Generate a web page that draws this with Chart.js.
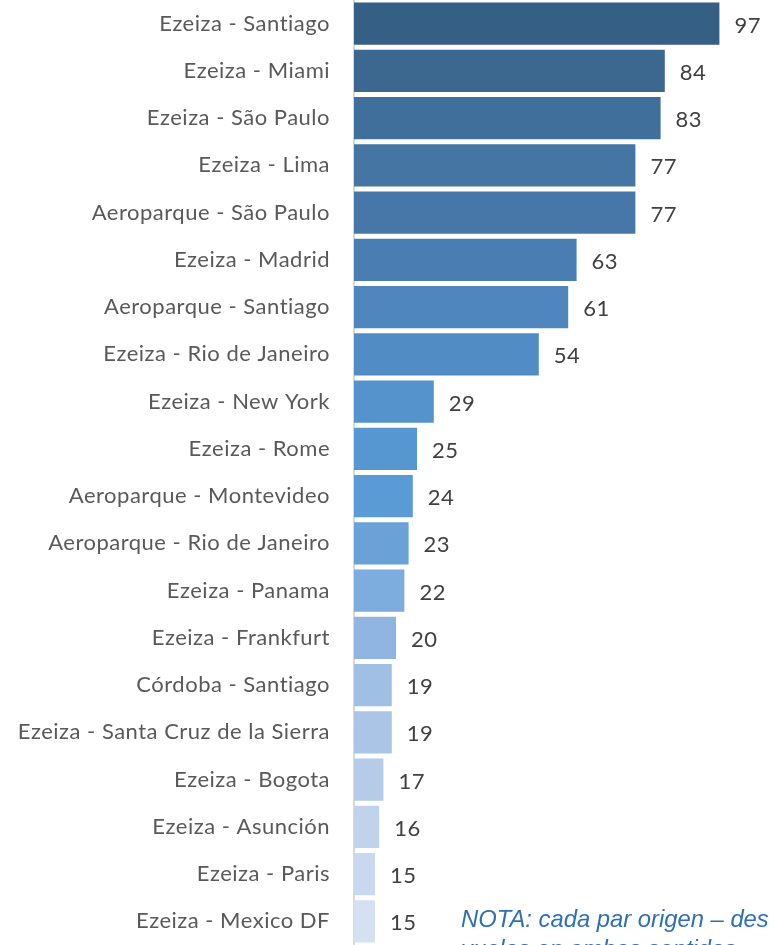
<!DOCTYPE html>
<html>
<head>
<meta charset="utf-8">
<script src="https://cdn.jsdelivr.net/npm/chart.js@4/dist/chart.umd.min.js"></script>
<style>
  html, body { margin: 0; padding: 0; background: #fff; }
  #wrap { position: relative; width: 769px; height: 945px; overflow: hidden; }
  #note {
    position: absolute; left: 461px; top: 904px; white-space: nowrap;
    font: italic 23.8px "Liberation Sans", Arial, sans-serif; line-height: 30px;
    color: #2e6fb4;
  }
</style>
</head>
<body>
<div id="wrap">
  <canvas id="routesChart" width="769" height="945"></canvas>
  <div id="note">NOTA: cada par origen – destino incluye<br>vuelos en ambos sentidos</div>
</div>
<script>
// rutas y cantidad de vuelos
const routes = [
  "Ezeiza - Santiago", "Ezeiza - Miami", "Ezeiza - São Paulo", "Ezeiza - Lima",
  "Aeroparque - São Paulo", "Ezeiza - Madrid", "Aeroparque - Santiago",
  "Ezeiza - Rio de Janeiro", "Ezeiza - New York", "Ezeiza - Rome",
  "Aeroparque - Montevideo", "Aeroparque - Rio de Janeiro", "Ezeiza - Panama",
  "Ezeiza - Frankfurt", "Córdoba - Santiago", "Ezeiza - Santa Cruz de la Sierra",
  "Ezeiza - Bogota", "Ezeiza - Asunción", "Ezeiza - Paris", "Ezeiza - Mexico DF",
];
const flights = [97, 84, 83, 77, 77, 63, 61, 54, 29, 25, 24, 23, 22, 20, 19, 19, 17, 16, 15, 15];
const barColors = [
  "#365f86", "#3c6890", "#416f9b", "#4575a3", "#4677a8", "#4a7eb3", "#4e86bd",
  "#528cc5", "#5593cc", "#5797d1", "#5b9bd5", "#6aa2d8", "#7dadde", "#8fb5e0",
  "#9fc0e4", "#aac5e6", "#b5cbe7", "#c0d3eb", "#c9d8ee", "#d5e1f2",
];

const FONT = 'Lato, "Open Sans", sans-serif';

// un poco de espaciado entre letras, como en el original
const spacing = {
  id: "spacing",
  beforeDraw(chart) { chart.ctx.letterSpacing = "0.5px"; },
};

// etiquetas de valor a la derecha de cada barra
const valueLabels = {
  id: "valueLabels",
  afterDatasetsDraw(chart) {
    const ctx = chart.ctx;
    const meta = chart.getDatasetMeta(0);
    ctx.save();
    ctx.letterSpacing = "0.5px";
    ctx.font = "22px " + FONT;
    ctx.fillStyle = "#404040";
    ctx.textAlign = "left";
    ctx.textBaseline = "middle";
    meta.data.forEach((bar, i) => {
      ctx.fillText(flights[i], bar.x + 15, bar.y + 2);
    });
    ctx.restore();
  },
};

const ctx = document.getElementById("routesChart").getContext("2d");
new Chart(ctx, {
  type: "bar",
  data: {
    labels: routes,
    datasets: [
      {
        data: flights,
        backgroundColor: barColors,
        borderWidth: 0,
        categoryPercentage: 0.89,
        barPercentage: 1,
      },
    ],
  },
  options: {
    indexAxis: "y",
    responsive: false,
    animation: false,
    layout: { padding: { top: 0, bottom: 0, left: 0, right: 37 } },
    scales: {
      x: { display: false, min: 10, max: 100 },
      y: {
        afterFit(scale) {
          scale.width = 354;
          scale.paddingTop = 0;
          scale.paddingBottom = 0;
        },
        grid: { display: false, drawTicks: false },
        border: { display: true, color: "#d9d9d9", width: 2 },
        ticks: {
          padding: 24,
          color: "#595959",
          font: { family: FONT, size: 22 },
        },
      },
    },
    plugins: {
      legend: { display: false },
      tooltip: { enabled: false },
    },
  },
  plugins: [spacing, valueLabels],
});
</script>
</body>
</html>
